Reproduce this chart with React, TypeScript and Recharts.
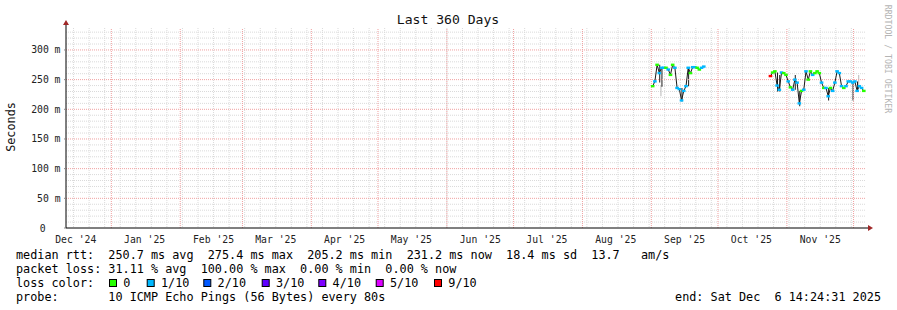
import React from "react"
import {
  ComposedChart,
  Line,
  Bar,
  XAxis,
  YAxis,
  CartesianGrid,
  ReferenceLine,
} from "recharts"

// time frame: last 360 days ending at the probe time
const END_TS = Date.UTC(2025, 11, 6, 14, 24, 31)
const DAY = 86400000
const START_TS = END_TS - 360 * DAY
const dayOf = (ts: number) => (ts - START_TS) / DAY

const monthLabels = [
  "Dec '24", "Jan '25", "Feb '25", "Mar '25", "Apr '25", "May '25",
  "Jun '25", "Jul '25", "Aug '25", "Sep '25", "Oct '25", "Nov '25",
]
const monthStarts = [
  [2024, 11], [2025, 0], [2025, 1], [2025, 2], [2025, 3], [2025, 4], [2025, 5],
  [2025, 6], [2025, 7], [2025, 8], [2025, 9], [2025, 10], [2025, 11],
]
const firstSunday = Date.UTC(2024, 11, 15)

const yTicks = [0, 50, 100, 150, 200, 250, 300]
const yMinor = [10, 20, 30, 40, 60, 70, 80, 90, 110, 120, 130, 140, 160, 170, 180, 190,
  210, 220, 230, 240, 260, 270, 280, 290, 310, 320, 330]

// median rtt samples (ms), one per day from the start of the graph
const sampleDays = [
  264, 265, 266, 267, 268, 269, 270, 271, 272, 273, 274, 275, 276, 277, 278, 279,
  280, 281, 282, 283, 284, 285, 286, 287,
  317, 318, 319, 320, 321, 322, 323, 324, 325, 326, 327, 328, 329, 330, 331, 332,
  333, 334, 335, 336, 337, 338, 339, 340, 341, 342, 343, 344, 345, 346, 347, 348,
  349, 350, 351, 352, 353, 354, 355, 356, 357, 358, 359,
]
const medianMs = [
  239, 247, 275, 261, 270, 270, 270, 267, 258, 275, 270, 236, 234, 215, 231, 239,
  270, 261, 271, 271, 270, 267, 270, 272,
  256, 262, 264, 240, 233, 262, 261, 258, 247, 237, 233, 250, 245, 210, 231, 233,
  264, 250, 264, 258, 261, 264, 261, 245, 236, 236, 222, 236, 231, 245, 264, 261,
  239, 236, 239, 247, 247, 245, 247, 231, 239, 236, 231,
]
// index into lossLabels
const lossBucket = [
  0, 1, 0, 1, 1, 1, 0, 1, 0, 0, 1, 1, 1, 1, 1, 1,
  1, 0, 1, 1, 0, 0, 1, 1,
  6, 0, 0, 1, 1, 1, 0, 0, 1, 0, 1, 1, 1, 1, 0, 1,
  1, 0, 0, 1, 0, 0, 0, 1, 0, 1, 1, 0, 1, 1, 1, 1,
  1, 0, 1, 1, 1, 1, 1, 1, 1, 1, 0,
]

// smoke (spread of the pings)
const darkSmokeDays = [267, 268, 277, 280, 320, 321, 328, 330, 343, 354, 356]
const darkSmokeLo = [245, 238, 213, 239, 230, 230, 233, 205, 215, 215, 231]
const darkSmokeHi = [275, 270, 236, 270, 262, 258, 258, 231, 236, 247, 247]
const lightSmokeDays = [268, 357]
const lightSmokeLo = [222, 239]
const lightSmokeHi = [240, 258]

const lossLabels = ["0", "1/10", "2/10", "3/10", "4/10", "5/10", "9/10"]
const lossColors = ["#26ff00", "#00b8ff", "#0059ff", "#5e00ff", "#7e00ff", "#dd00ff", "#ff0000"]

const statsLine1 = "median rtt:  250.7 ms avg  275.4 ms max  205.2 ms min  231.2 ms now  18.4 ms sd  13.7   am/s"
const statsLine2 = "packet loss: 31.11 % avg  100.00 % max  0.00 % min  0.00 % now"
const probeLine = "probe:       10 ICMP Echo Pings (56 Bytes) every 80s"
const endLine = "end: Sat Dec  6 14:24:31 2025"

// keep runs of spaces in svg text
const keepSpaces = (s: string) => s.replace(/ /g, "\u00a0")

const monthLineDays = monthStarts
  .map(([y, m]) => dayOf(Date.UTC(y, m, 1)))
  .filter((d) => d >= 0 && d <= 360)
const monthTickDays = monthStarts
  .slice(0, 12)
  .map(([y, m]) => dayOf(Date.UTC(y, m, 1) + 15 * DAY))

const weekDays: number[] = []
for (let t = firstSunday; t <= END_TS; t += 7 * DAY) weekDays.push(dayOf(t))

const rows: any[] = sampleDays.map((d, i) => ({
  d,
  med: medianMs[i],
  loss: lossBucket[i],
  dark: null,
  light: null,
}))
darkSmokeDays.forEach((d, i) => {
  const r = rows.find((r) => r.d === d)
  if (r) r.dark = [darkSmokeLo[i], darkSmokeHi[i]]
})
lightSmokeDays.forEach((d, i) => {
  const r = rows.find((r) => r.d === d)
  if (r) r.light = [lightSmokeLo[i], lightSmokeHi[i]]
})
rows.push({ d: 300, med: null, loss: 0, dark: null, light: null })
rows.sort((a, b) => a.d - b.d)

const MONO = "'DejaVu Sans Mono', monospace"
const minorGrid = "#dadada"
const majorGrid = "#f0a0a0"

const LossDot = (props: any) => {
  const { cx, cy, payload, index } = props
  if (cx == null || cy == null || payload.med == null) return null
  return (
    <rect
      key={"dot" + index}
      x={cx - 1.8}
      y={cy - 1.2}
      width={3.6}
      height={2.4}
      fill={lossColors[payload.loss]}
    />
  )
}

const XTick = (props: any) => {
  const { x, y, payload } = props
  const i = monthTickDays.indexOf(payload.value)
  return (
    <text x={x} y={y + 7} textAnchor="middle" fontFamily={MONO} fontSize={9.75} fill="#222">
      {keepSpaces(monthLabels[i])}
    </text>
  )
}

const YTick = (props: any) => {
  const { x, y, payload } = props
  const v = payload.value
  const label = v === 0 ? "0" : `${v} m`
  return (
    <text
      x={v === 0 ? x - 16.5 : x - 1.5}
      y={y + 3.5}
      textAnchor="end"
      fontFamily={MONO}
      fontSize={9.75}
      fill="#222"
    >
      {keepSpaces(label)}
    </text>
  )
}

const boxX = [109, 146.7, 203.3, 261.7, 318.3, 375.7, 434]

export default function App() {
  return (
    <div style={{ position: "relative", width: 897, height: 310, background: "#fff" }}>
      <style>{"body{margin:0}"}</style>
      <ComposedChart
        width={897}
        height={310}
        data={rows}
        margin={{ top: 28, right: 31, bottom: 62, left: 6 }}
      >
        <CartesianGrid
          stroke={minorGrid}
          strokeDasharray="1 1"
          horizontalValues={yMinor}
          verticalValues={weekDays}
        />
        {yTicks.filter((v) => v > 0).map((v) => (
          <ReferenceLine key={"y" + v} y={v} stroke={majorGrid} strokeDasharray="1 1" />
        ))}
        {monthLineDays.map((d) => (
          <ReferenceLine key={"m" + d} x={d} stroke={majorGrid} strokeDasharray="1 1" />
        ))}
        <XAxis
          dataKey="d"
          type="number"
          domain={[0, 360]}
          allowDataOverflow
          ticks={monthTickDays}
          tick={<XTick />}
          tickLine={false}
          axisLine={{ stroke: "#000" }}
          height={20}
          interval={0}
        />
        <YAxis
          type="number"
          domain={[0, 337]}
          allowDataOverflow
          ticks={yTicks}
          tick={<YTick />}
          tickSize={2}
          tickLine={{ stroke: "#888" }}
          axisLine={{ stroke: "#000" }}
          width={60}
          interval={0}
        />
        <Bar dataKey="light" fill="#b8b8b8" barSize={2} isAnimationActive={false} />
        <Bar dataKey="dark" fill="#1a1a1a" barSize={2} isAnimationActive={false} />
        <Line
          dataKey="med"
          type="linear"
          stroke="#1a1a1a"
          strokeWidth={1}
          dot={<LossDot />}
          activeDot={false}
          isAnimationActive={false}
        />
      </ComposedChart>

      <svg
        width={897}
        height={310}
        style={{ position: "absolute", left: 0, top: 0, pointerEvents: "none" }}
      >
        <text x={448} y={24} textAnchor="middle" fontFamily={MONO} fontSize={13.1} fill="#111">
          {keepSpaces("Last 360 Days")}
        </text>
        <text
          x={15}
          y={127}
          textAnchor="middle"
          fontFamily={MONO}
          fontSize={11.8}
          fill="#111"
          transform="rotate(-90 15 127)"
        >
          Seconds
        </text>
        <text
          x={885}
          y={59}
          textAnchor="middle"
          fontFamily={MONO}
          fontSize={8.2}
          fill="#b4b4b4"
          transform="rotate(90 885 59)"
        >
          {keepSpaces("RRDTOOL / TOBI OETIKER")}
        </text>

        {/* axis arrows */}
        <line x1={866} y1={228} x2={870} y2={228} stroke="#000" />
        <polygon points="868,225 868,231 873,228" fill="#a02828" />
        <line x1={66} y1={28} x2={66} y2={24} stroke="#000" />
        <polygon points="63,25 69,25 66,20" fill="#a02828" />

        <g fontFamily={MONO} fontSize={11.8} fill="#000">
          <text x={16} y={258.5}>{keepSpaces(statsLine1)}</text>
          <text x={16} y={272.5}>{keepSpaces(statsLine2)}</text>
          <text x={16} y={286.5}>{keepSpaces("loss color:")}</text>
          {lossLabels.map((l, i) => (
            <g key={l}>
              <rect
                x={boxX[i] + 0.5}
                y={279.5}
                width={7}
                height={7}
                fill={lossColors[i]}
                stroke="#000"
              />
              <text x={boxX[i] + 14.3} y={286.5}>{l}</text>
            </g>
          ))}
          <text x={16} y={300.5}>{keepSpaces(probeLine)}</text>
          <text x={881} y={300.5} textAnchor="end">{keepSpaces(endLine)}</text>
        </g>
      </svg>
    </div>
  )
}
